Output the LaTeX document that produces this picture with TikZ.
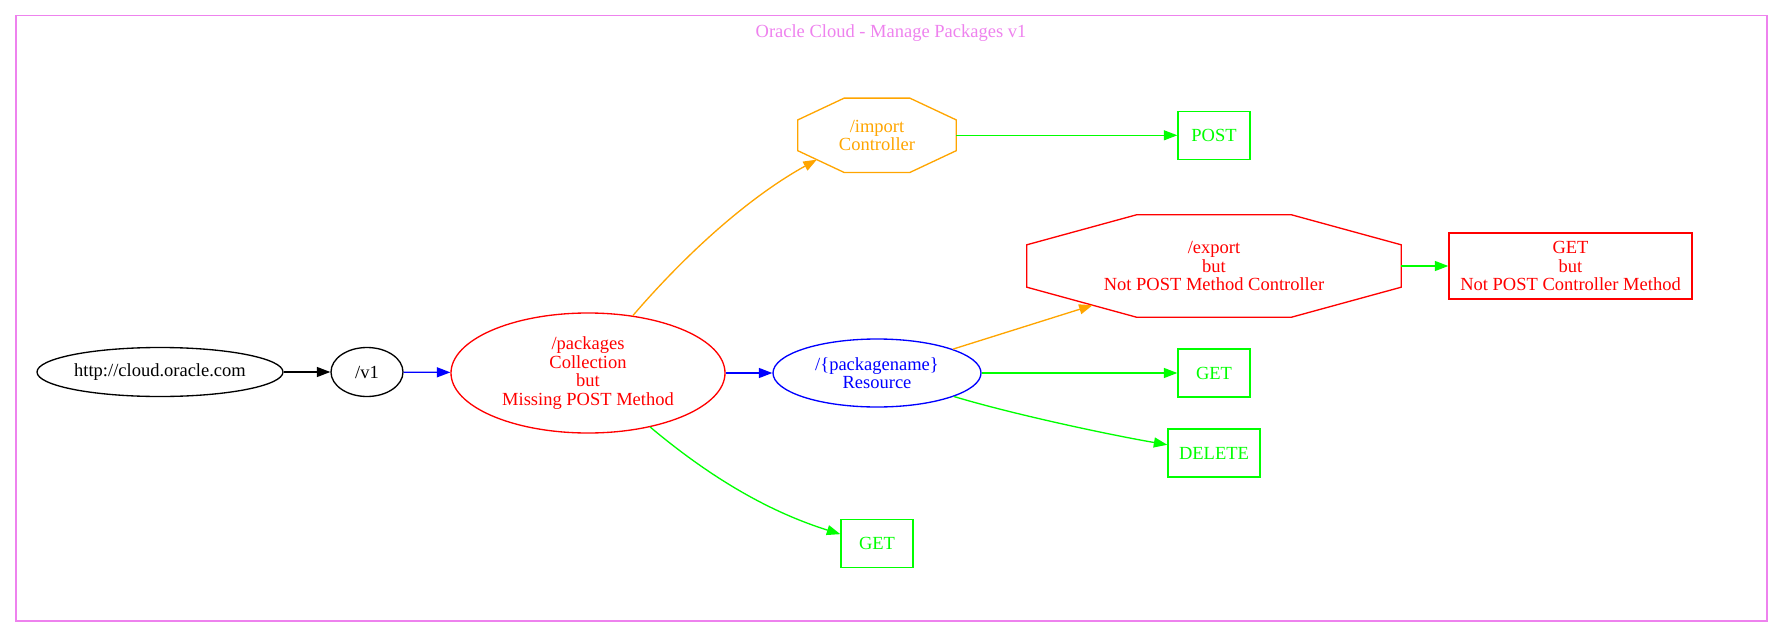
\documentclass[tikz,border=0pt]{standalone}
\usepackage{fontspec}
\setmainfont{Liberation Serif}
\usetikzlibrary{shapes.geometric,arrows.meta,calc}
\definecolor{gvviolet}{HTML}{EE82EE}
\definecolor{gvorange}{HTML}{FFA500}
\definecolor{gvgreen}{HTML}{00FF00}
\definecolor{gvblue}{HTML}{0000FF}
\definecolor{gvred}{HTML}{FF0000}
\newcommand{\octpath}[2]{%
  \coordinate (#1-1) at ($(#1.north west)!0.293!(#1.north east)$);
  \coordinate (#1-2) at ($(#1.north west)!0.707!(#1.north east)$);
  \coordinate (#1-3) at ($(#1.north east)!0.293!(#1.south east)$);
  \coordinate (#1-4) at ($(#1.north east)!0.707!(#1.south east)$);
  \coordinate (#1-5) at ($(#1.south west)!0.707!(#1.south east)$);
  \coordinate (#1-6) at ($(#1.south west)!0.293!(#1.south east)$);
  \coordinate (#1-7) at ($(#1.north west)!0.707!(#1.south west)$);
  \coordinate (#1-8) at ($(#1.north west)!0.293!(#1.south west)$);
  \draw[#2, line width=1.33pt, line join=miter]
    (#1-1) -- (#1-2) -- (#1-3) -- (#1-4) -- (#1-5) -- (#1-6) -- (#1-7) -- (#1-8) -- cycle;}
\tikzset{
  lbl/.style={font=\fontsize{18.5}{18.5}\selectfont, align=center, inner sep=0pt},
  ell/.style={lbl, ellipse, draw, line width=1.33pt},
  gvbox/.style={lbl, rectangle, draw, line width=1.33pt},
  oct/.style={lbl, rectangle},
  conn/.style={line width=1.33pt, -{Triangle[length=13.5pt,width=10pt]}},
}
\begin{document}
\begin{tikzpicture}[x=1pt,y=-1pt]
\useasboundingbox (0,0) rectangle (1783,637);
% cluster
\draw[gvviolet, line width=1.33pt] (16,15.5) rectangle (1767,621);
\node[lbl, text=gvviolet, anchor=base] (title) at (891,37) {Oracle Cloud - Manage Packages v1};
% nodes
\node[ell, minimum width=246pt, minimum height=49pt] (http) at (160,372) {http://cloud.oracle.com};
\node[ell, minimum width=72pt, minimum height=49pt] (v1) at (367,372) {/v1};
\node[ell, draw=gvred, text=gvred, minimum width=274pt, minimum height=120pt] (packages) at (588,373)
  {/packages\\Collection\\but\\Missing POST Method};
\node[ell, draw=gvblue, text=gvblue, minimum width=208pt, minimum height=68pt] (pkgname) at (877,373)
  {/\{packagename\}\\Resource};
\node[oct, text=gvorange, minimum width=158pt, minimum height=74pt] (import) at (877,135.3) {/import\\Controller};
\octpath{import}{gvorange}
\node[gvbox, draw=gvgreen, text=gvgreen, minimum width=72pt, minimum height=48pt] (post) at (1214,135.3) {POST};
\node[oct, text=gvred, minimum width=374pt, minimum height=102pt] (export) at (1214,266)
  {/export\\but\\Not POST Method Controller};
\octpath{export}{gvred}
\node[gvbox, draw=gvred, text=gvred, minimum width=243pt, minimum height=66pt] (getbut) at (1570.5,266)
  {GET\\but\\Not POST Controller Method};
\node[gvbox, draw=gvgreen, text=gvgreen, minimum width=72pt, minimum height=48pt] (get) at (1214,373) {GET};
\node[gvbox, draw=gvgreen, text=gvgreen, minimum width=92pt, minimum height=48pt] (delete) at (1214,453) {DELETE};
\node[gvbox, draw=gvgreen, text=gvgreen, minimum width=72pt, minimum height=48pt] (getb) at (877,543.3) {GET};
\coordinate (importin) at ($(import-7)!0.41!(import-6)$);
\coordinate (exportin) at ($(export-7)!0.60!(export-6)$);
% connectors
\draw[conn, black] (http) -- (v1);
\draw[conn, gvblue] (v1) -- (packages);
\draw[conn, gvblue] (packages) -- (pkgname);
\draw[conn, gvorange] (packages.52) .. controls +(62,-72) and +(-60,33) .. (importin);
\draw[conn, gvgreen] (packages.-41) .. controls +(62,52) and +(-70,-22) .. (getb.166);
\draw[conn, gvgreen] (import.east) -- (post.west);
\draw[conn, gvorange] (pkgname) -- (exportin);
\draw[conn, gvgreen] (export.east) -- (getbut.west);
\draw[conn, gvgreen] (pkgname) -- (get);
\draw[conn, gvgreen] (pkgname.-17) .. controls +(60,18) and +(-58,-10) .. (delete.170);
\end{tikzpicture}
\end{document}
